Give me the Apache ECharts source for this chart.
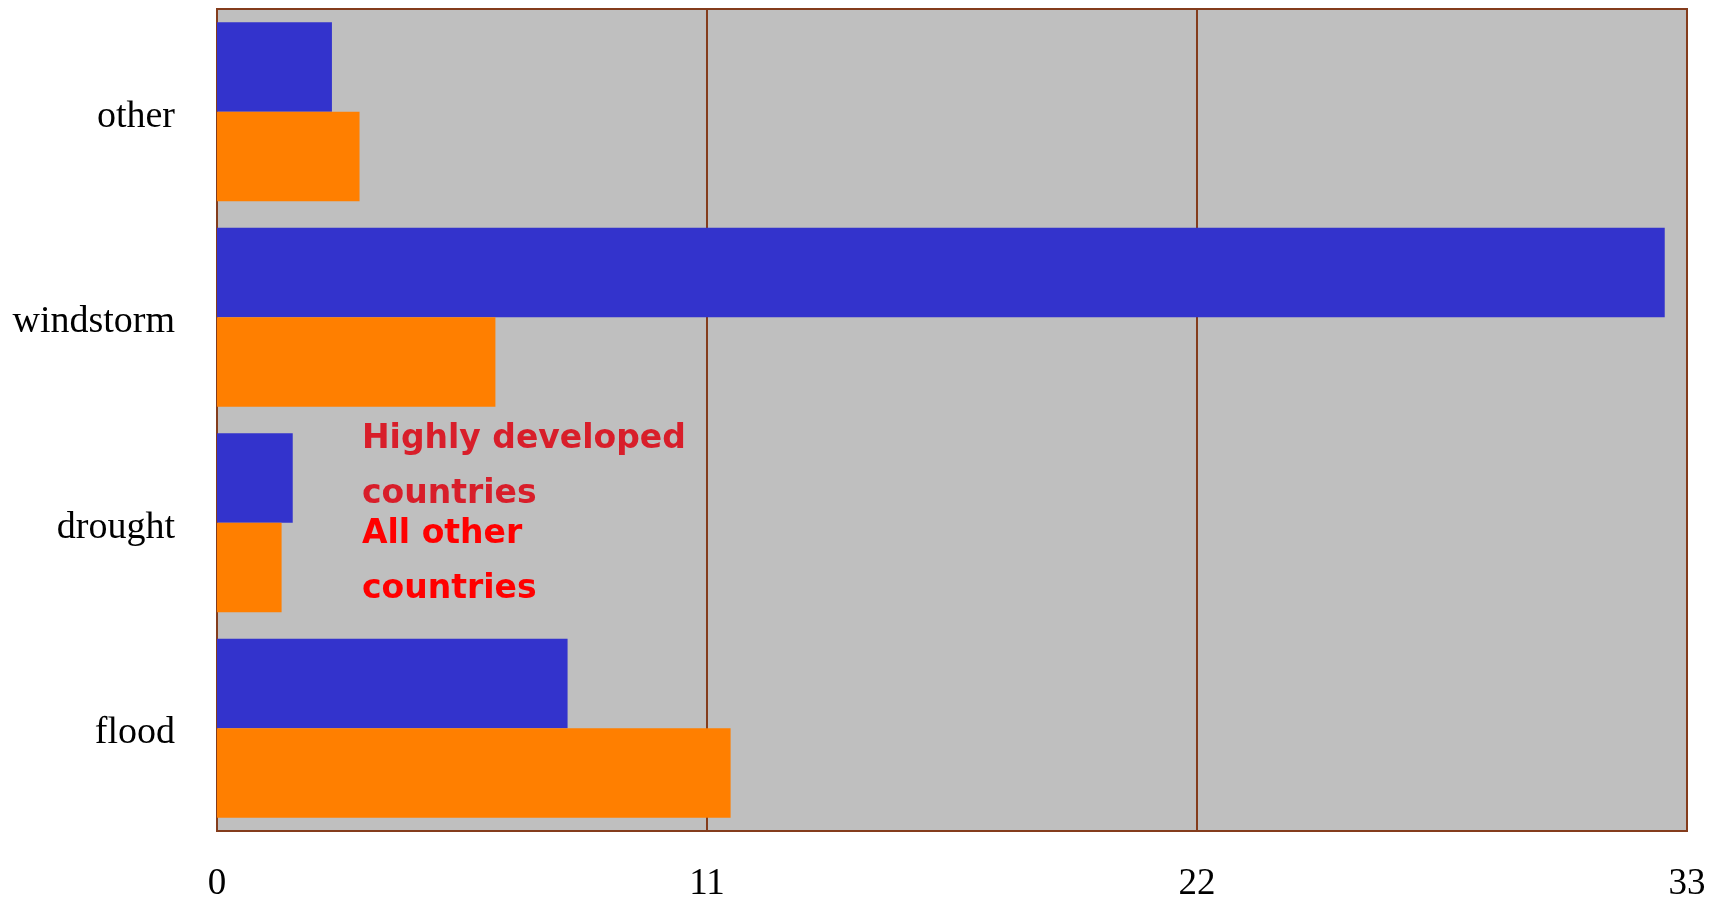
<!DOCTYPE html>
<html><head><meta charset="utf-8">
<script src="https://cdn.jsdelivr.net/npm/echarts@6/dist/echarts.min.js"></script>
<style>html,body{margin:0;padding:0;background:#fff}#c{width:1717px;height:899px}</style>
</head><body><div id="c"></div>
<script>
const categories = ['flood', 'drought', 'windstorm', 'other'];
const seriesNames = ['Highly developed countries', 'All other countries'];
const developed = [7.87, 1.7, 32.5, 2.58];
const others = [11.53, 1.45, 6.25, 3.2];
const xTicks = [0, 11, 22, 33];

const chart = echarts.init(document.getElementById('c'));
chart.setOption({
  animation: false,
  backgroundColor: '#ffffff',
  grid: { left: 217, right: 30, top: 9, bottom: 68, outerBoundsMode: 'none', containLabel: false, show: true, backgroundColor: '#bfbfbf', borderColor: '#843c1c', borderWidth: 2 },
  legend: {
    orient: 'vertical', left: 352, top: 407, itemWidth: 0, itemHeight: 0, itemGap: -15,
    icon: 'rect',
    formatter: n => n === seriesNames[0] ? 'Highly developed\ncountries' : 'All other\ncountries',
    data: [
      { name: seriesNames[0], textStyle: { color: '#d81e2a' } },
      { name: seriesNames[1], textStyle: { color: '#ff0000' } }
    ],
    textStyle: { fontFamily: 'DejaVu Sans', fontWeight: 'bold', fontSize: 33, lineHeight: 55 }
  },
  xAxis: {
    type: 'value', min: xTicks[0], max: xTicks[xTicks.length - 1], interval: xTicks[1] - xTicks[0],
    axisLine: { show: true, lineStyle: { color: '#843c1c', width: 2 } },
    axisTick: { show: false },
    splitLine: { show: true, lineStyle: { color: '#843c1c', width: 2 } },
    axisLabel: { color: '#000', fontFamily: 'Liberation Serif', fontSize: 37, margin: 35 }
  },
  yAxis: {
    type: 'category', data: categories,
    axisLine: { show: true, lineStyle: { color: '#843c1c', width: 2 } },
    axisTick: { show: false },
    axisLabel: {
      color: '#000', fontFamily: 'Liberation Serif', fontSize: 38, margin: 42,
      formatter: v => '{a|' + v + '}',
      rich: { a: { fontFamily: 'Liberation Serif', fontSize: 38, color: '#000', padding: [10, 0, 0, 0] } }
    }
  },
  series: [
    { name: seriesNames[0], type: 'bar', data: developed, itemStyle: { color: '#3333cc' }, barGap: '0%', barCategoryGap: '13%' },
    { name: seriesNames[1], type: 'bar', data: others, itemStyle: { color: '#ff7f00' }, barGap: '0%', barCategoryGap: '13%' }
  ]
});
</script></body></html>
